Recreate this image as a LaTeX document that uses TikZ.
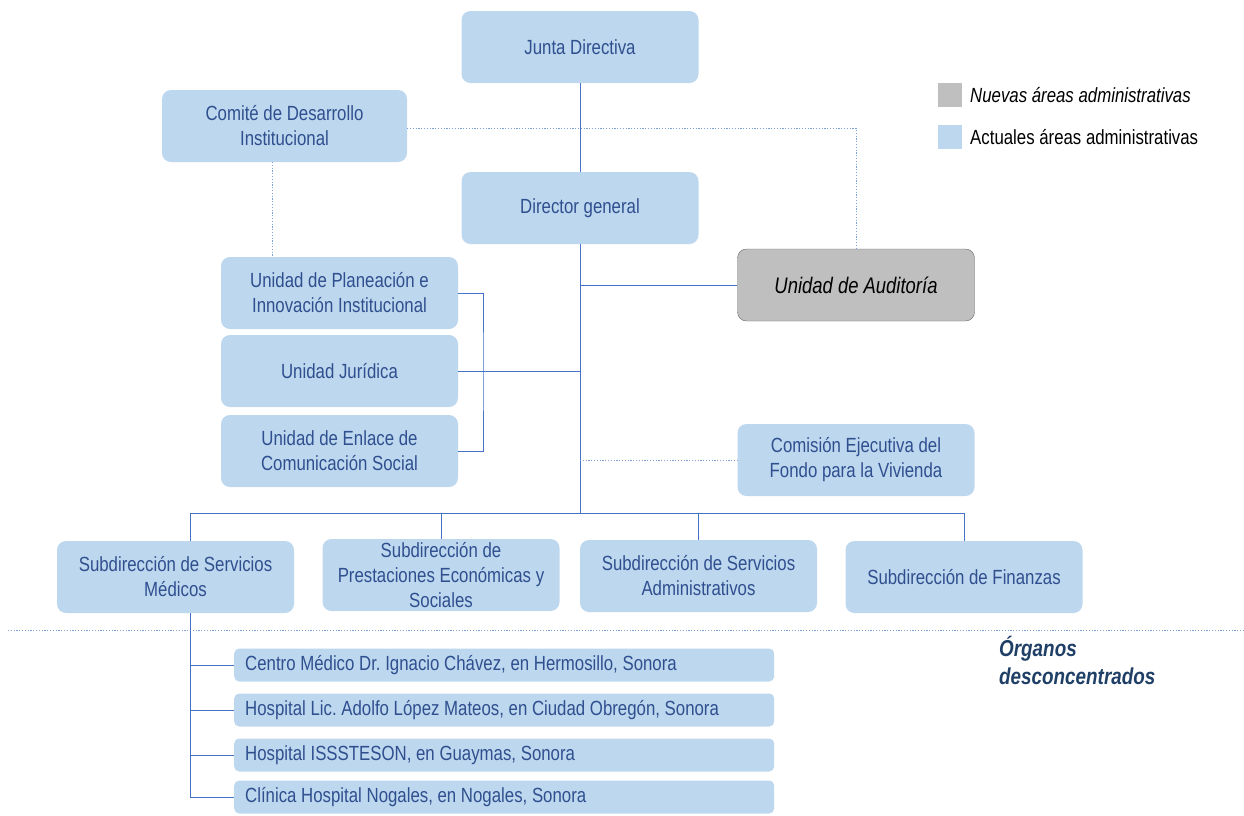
\documentclass[tikz,border=0pt]{standalone}
\usepackage{fontspec}
\setmainfont{Liberation Sans}[FakeStretch=0.82]
\usetikzlibrary{positioning}
\definecolor{boxblue}{HTML}{BDD7EE}
\definecolor{txtblue}{HTML}{2F4F8F}
\definecolor{lineblue}{HTML}{4472C4}
\definecolor{dotblue}{HTML}{7F9FD8}
\definecolor{newgray}{HTML}{BFBFBF}
\definecolor{darkblue}{HTML}{1F3F66}
\tikzset{
  unit/.style={fill=boxblue, rounded corners=9pt, minimum width=237pt, minimum height=72pt,
    inner xsep=4pt, inner ysep=1pt, text=txtblue, align=center,
    font=\fontsize{20.5}{25}\selectfont},
  newunit/.style={unit, fill=newgray, draw=black!60, text=black,
    font=\fontsize{22.5}{25}\selectfont\itshape},
  organ/.style={fill=boxblue, rounded corners=5pt, minimum height=33pt, anchor=west,
    text width=518pt, inner xsep=11pt, inner ysep=0pt, text=txtblue, align=left,
    font=\fontsize{20.5}{25}\selectfont\frenchspacing,
    execute at begin node={\spaceskip=0pt\xspaceskip=0pt\relax}},
  keybox/.style={minimum width=24pt, minimum height=24pt, inner sep=0pt},
  keytext/.style={anchor=west, inner sep=0pt, font=\fontsize{20.5}{25}\selectfont},
  link/.style={lineblue, line width=1pt},
  dots/.style={dotblue, line width=0.9pt, dash pattern=on 1.2pt off 1.6pt},
}
\begin{document}
\begin{tikzpicture}[x=1pt, y=-1pt]
  \useasboundingbox (0,0) rectangle (1244,815);

  % upper levels
  \node[unit] (jd) at (580,47) {Junta Directiva};
  \node[unit, minimum width=245pt] (cdi) at (284.5,126) {Comité de Desarrollo\\Institucional};
  \node[unit] (dg) at (580,208) {Director general};
  \node[newunit] (aud) at (856,285) {Unidad de Auditoría};

  % legend
  \node[keybox, fill=newgray] (kn) at (950,95) {};
  \node[keytext, font=\fontsize{20.5}{25}\selectfont\itshape] (kntxt) at (970,95) {Nuevas áreas administrativas};
  \node[keybox, fill=boxblue] (ka) at (950,137) {};
  \node[keytext] (katxt) at (970,137) {Actuales áreas administrativas};

  % staff units
  \node[unit] (pla) at (339.5,293) {Unidad de Planeación e\\Innovación Institucional};
  \node[unit] (jur) at (339.5,371) {Unidad Jurídica};
  \node[unit] (enl) at (339.5,451) {Unidad de Enlace de\\Comunicación Social};
  \node[unit] (cev) at (856,460) {Comisión Ejecutiva del\\Fondo para la Vivienda};

  % subdirecciones
  \node[unit] (ssm) at (175.5,577) {Subdirección de Servicios\\Médicos};
  \node[unit] (spe) at (441,575) {Subdirección de\\Prestaciones Económicas y\\Sociales};
  \node[unit] (ssa) at (698.5,576) {Subdirección de Servicios\\Administrativos};
  \node[unit] (sf) at (964,577) {Subdirección de Finanzas};

  % organos desconcentrados
  \node[organ] (o1) at (234,665) {Centro Médico Dr. Ignacio Chávez, en Hermosillo, Sonora};
  \node[organ] (o2) at (234,710) {Hospital Lic. Adolfo López Mateos, en Ciudad Obregón, Sonora};
  \node[organ] (o3) at (234,755) {Hospital ISSSTESON, en Guaymas, Sonora};
  \node[organ] (o4) at (234,797) {Clínica Hospital Nogales, en Nogales, Sonora};
  \node[anchor=north west, align=left, inner sep=0pt, text=darkblue,
    font=\fontsize{23}{28}\selectfont\bfseries\itshape] (odt) at (999,636) {Órganos\\desconcentrados};

  % connectors
  \coordinate (bus) at (580,513);
  \coordinate (brk) at (483,371);
  \coordinate (cdx) at (272,162);
  \coordinate (ssmx) at ([xshift=14.5pt]ssm.south);
  \draw[link] (jd) -- (dg);
  \draw[link] (dg) -- (bus);
  \draw[link] (dg.south |- aud.west) -- (aud.west);
  \draw[link] (jur.east) -- (dg.south |- jur.east);
  \draw[link] (pla.east) -| (brk) |- (enl.east);
  \draw[dots] (dg.south |- cev.west) -- (cev.west);
  \draw[dots] ([yshift=-2pt]cdi.east) -| (aud.north);
  \draw[dots] (cdx) -- (cdx |- pla.north);
  \draw[link] ([xshift=14.5pt]ssm.north) |- (bus) -| (sf.north);
  \draw[link] (spe.north) -- (spe.north |- bus);
  \draw[link] (ssa.north) -- (ssa.north |- bus);
  \draw[dots] (8,630) -- (1244,630);
  \draw[link] (ssmx) |- (o4.west);
  \foreach \o in {o1,o2,o3}
    \draw[link] (\o.west) -- (\o.west -| ssmx);
\end{tikzpicture}
\end{document}
